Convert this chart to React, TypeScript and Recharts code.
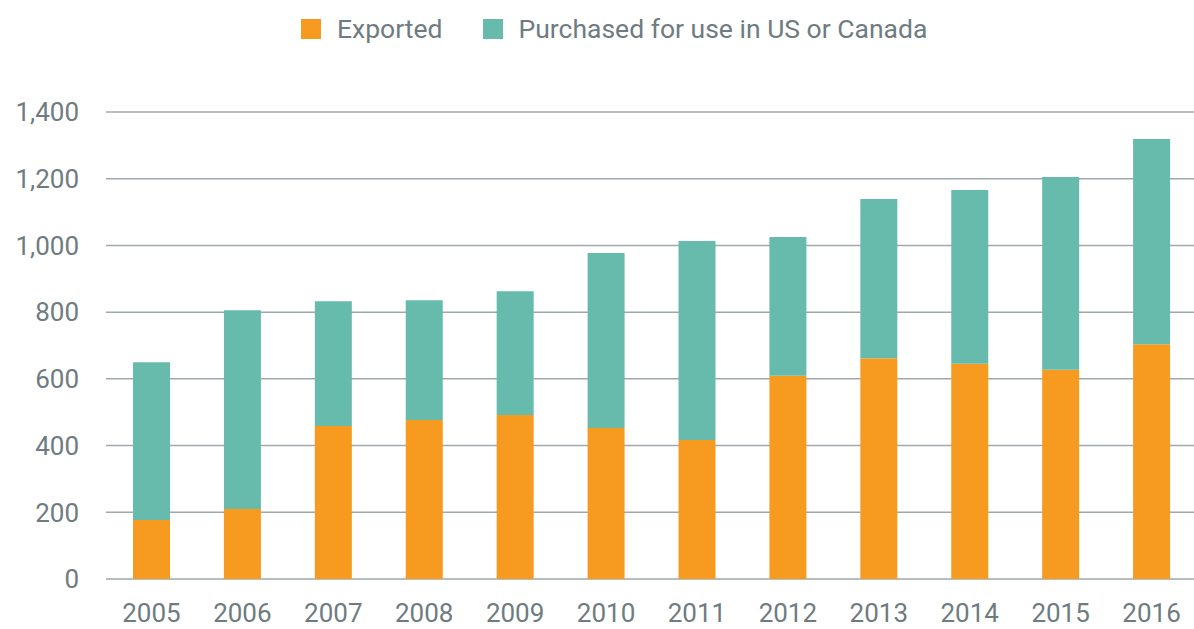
import { BarChart, Bar, XAxis, YAxis, CartesianGrid } from 'recharts'

const years = ['2005', '2006', '2007', '2008', '2009', '2010', '2011', '2012', '2013', '2014', '2015', '2016']
const exported = [177, 210, 459, 477, 492, 453, 417, 609, 662, 645, 627, 704]
const purchased = [473, 596, 374, 359, 371, 524, 596, 416, 477, 521, 578, 615]
const yTicks = [0, 200, 400, 600, 800, 1000, 1200, 1400]

const SERIES = [
  { key: 'exported', label: 'Exported', color: '#F79B20' },
  { key: 'purchased', label: 'Purchased for use in US or Canada', color: '#67BBAC' },
]

const TEXT = '#6E7C81'
const FONT = 'Roboto, "Noto Sans", sans-serif'

const data = years.map((year, i) => ({
  year,
  exported: exported[i],
  purchased: purchased[i],
}))

export default function App() {
  return (
    <div style={{ position: 'absolute', left: 0, top: 0, width: 1194, height: 629, background: '#fff', fontFamily: FONT, overflow: 'hidden' }}>
      <div style={{ position: 'absolute', top: 14, left: 301, display: 'flex', gap: 40 }}>
        {SERIES.map((s) => (
          <div key={s.key} style={{ display: 'flex', alignItems: 'center', gap: 16 }}>
            <span style={{ width: 20, height: 20, background: s.color, display: 'inline-block' }} />
            <span style={{ color: TEXT, fontSize: 26.5, lineHeight: '30px' }}>{s.label}</span>
          </div>
        ))}
      </div>
      <BarChart
        width={1200}
        height={629}
        data={data}
        margin={{ top: 112, right: 3, bottom: 0, left: 0 }}
      >
        <CartesianGrid vertical={false} stroke="#9FA8AB" strokeWidth={1.5} />
        <XAxis
          dataKey="year"
          axisLine={false}
          tickLine={false}
          height={50}
          tickMargin={19}
          tick={{ fill: TEXT, fontSize: 26, fontFamily: FONT }}
        />
        <YAxis
          domain={[0, 1400]}
          ticks={yTicks}
          width={106}
          axisLine={false}
          tickLine={false}
          tickMargin={21}
          tickFormatter={(v: number) => v.toLocaleString('en-US')}
          tick={{ fill: TEXT, fontSize: 26, fontFamily: FONT }}
        />
        {SERIES.map((s) => (
          <Bar
            key={s.key}
            dataKey={s.key}
            stackId="a"
            fill={s.color}
            barSize={37}
            isAnimationActive={false}
          />
        ))}
      </BarChart>
    </div>
  )
}
